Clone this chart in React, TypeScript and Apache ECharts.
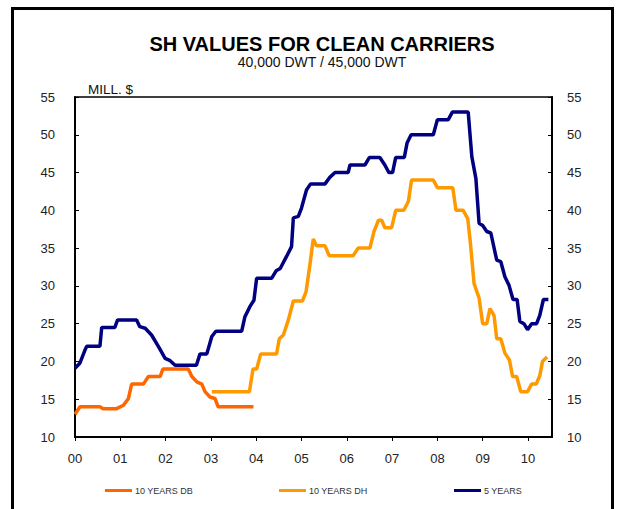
import React, { useEffect, useRef } from "react";
import * as echarts from "echarts";

// Time in years since 2000 (breakpoints), and values in MILL. $
const fiveYearTimes = [0, 0.11, 0.22, 0.26, 0.55, 0.59, 0.88, 0.94, 1.36, 1.43, 1.55, 1.69, 1.84, 1.99, 2.1, 2.21, 2.68, 2.76, 2.91, 3.02, 3.11, 3.68, 3.75, 3.86, 3.95, 4.01, 4.34, 4.44, 4.53, 4.67, 4.78, 4.82, 4.93, 5.0, 5.11, 5.2, 5.52, 5.63, 5.74, 6.03, 6.07, 6.4, 6.5, 6.73, 6.84, 6.93, 7.01, 7.08, 7.27, 7.33, 7.42, 7.91, 8.0, 8.24, 8.33, 8.68, 8.76, 8.85, 8.92, 9.0, 9.09, 9.18, 9.31, 9.4, 9.49, 9.58, 9.67, 9.76, 9.82, 9.91, 9.99, 10.08, 10.19, 10.26, 10.34, 10.45];
const fiveYearValues = [19.1, 19.8, 21.5, 22, 22, 24.5, 24.5, 25.5, 25.5, 24.6, 24.4, 23.5, 22, 20.4, 20.1, 19.5, 19.5, 21, 21, 23.3, 24, 24, 25.9, 27.25, 28.1, 31, 31, 32, 32.3, 33.9, 35.2, 39, 39.2, 40.3, 42.7, 43.5, 43.5, 44.4, 45, 45, 46, 46, 47, 47, 46, 45, 45, 47, 47, 48.9, 50, 50, 52, 52, 53, 53, 47.1, 44.2, 38.3, 38, 37.2, 37, 33.4, 33.2, 31.2, 30.1, 28.2, 28.2, 25.3, 25, 24.2, 25, 25, 26.1, 28.2, 28.2];

const dbTimes = [0, 0.11, 0.55, 0.62, 0.92, 1.07, 1.18, 1.25, 1.51, 1.62, 1.88, 1.94, 2.5, 2.58, 2.69, 2.8, 2.87, 2.98, 3.09, 3.16, 3.94];
const dbValues = [13, 14, 14, 13.75, 13.75, 14.2, 15.1, 17, 17, 18, 18, 19, 19, 18, 17.3, 17, 16, 15.3, 15.1, 14, 14];

const dhTimes = [3.02, 3.85, 3.93, 4.01, 4.1, 4.45, 4.51, 4.6, 4.71, 4.82, 5.02, 5.1, 5.19, 5.26, 5.33, 5.52, 5.61, 6.14, 6.25, 6.51, 6.6, 6.7, 6.77, 6.84, 6.99, 7.08, 7.26, 7.36, 7.43, 7.91, 8.0, 8.34, 8.41, 8.57, 8.67, 8.73, 8.81, 8.92, 9.0, 9.09, 9.16, 9.25, 9.31, 9.4, 9.49, 9.59, 9.66, 9.75, 9.84, 9.99, 10.08, 10.18, 10.26, 10.32, 10.42];
const dhValues = [16, 16, 19, 19, 21, 21, 23, 23.5, 25.5, 28, 28, 29.2, 33, 36.2, 35.3, 35.3, 34, 34, 35, 35, 37.2, 38.7, 38.7, 37.7, 37.7, 40, 40, 41.2, 44, 44, 43, 43, 40, 40, 38.9, 35.6, 30.3, 28.4, 25, 25, 27, 26.1, 23, 23, 21.1, 20.2, 18, 18, 16, 16, 17, 17, 18.1, 20, 20.6];

const xTickLabels = ["00", "01", "02", "03", "04", "05", "06", "07", "08", "09", "10"];
const seriesNames = ["10 YEARS DB", "10 YEARS DH", "5 YEARS"];

const FONT = "'Liberation Sans', Arial, sans-serif";

function pairs(t: number[], v: number[]) {
  return t.map((x, i) => [x, v[i]]);
}

export default function App() {
  const ref = useRef<HTMLDivElement>(null);
  useEffect(() => {
    if (!ref.current) return;
    const chart = echarts.init(ref.current, undefined, { renderer: "svg" });
    const yAxisCommon = {
      type: "value",
      min: 10,
      max: 55,
      interval: 5,
      axisLine: { show: true, lineStyle: { color: "#000", width: 2 } },
      axisTick: { show: true, inside: true, length: 4, lineStyle: { color: "#000", width: 1 } },
      splitLine: { show: false },
      axisLabel: { color: "#222", fontSize: 13, fontFamily: FONT },
    };
    const legendCommon = {
      top: 481,
      itemWidth: 27,
      itemHeight: 3,
      icon: "rect",
      textStyle: { fontSize: 9, color: "#333", fontFamily: FONT, padding: [0, 0, 0, -2] },
    };
    chart.setOption({
      animation: false,
      backgroundColor: "#fff",
      title: [
        {
          text: "SH VALUES FOR CLEAN CARRIERS",
          left: 317,
          top: 29,
          textAlign: "center",
          textStyle: { fontSize: 20, fontWeight: "bold", color: "#000", fontFamily: FONT },
        },
        {
          text: "40,000 DWT / 45,000 DWT",
          left: 317,
          top: 50,
          textAlign: "center",
          textStyle: { fontSize: 14, fontWeight: "normal", color: "#111", fontFamily: FONT },
        },
        {
          text: "MILL. $",
          left: 83,
          top: 77,
          textStyle: { fontSize: 13.5, fontWeight: "normal", color: "#111", fontFamily: FONT },
        },
      ],
      legend: [
        { ...legendCommon, left: 100, data: [seriesNames[0]] },
        { ...legendCommon, left: 274, data: [seriesNames[1]] },
        { ...legendCommon, left: 449, data: [seriesNames[2]] },
      ],
      grid: {
        left: 75,
        right: 65,
        top: 97,
        bottom: 72,
        show: true,
        borderColor: "#000",
        borderWidth: 1.5,
        backgroundColor: "transparent",
      },
      xAxis: {
        type: "value",
        min: 0,
        max: 10.53,
        interval: 1,
        axisLine: { show: true, lineStyle: { color: "#000", width: 2 } },
        axisTick: { show: true, inside: false, length: 4, lineStyle: { color: "#000", width: 1 } },
        splitLine: { show: false },
        axisLabel: {
          color: "#222",
          fontSize: 13,
          fontFamily: FONT,
          margin: 15,
          showMaxLabel: false,
          formatter: (v: number) => (Number.isInteger(v) ? xTickLabels[v] ?? "" : ""),
        },
      },
      yAxis: [
        { ...yAxisCommon, position: "left", axisLabel: { ...yAxisCommon.axisLabel, margin: 20 } },
        { ...yAxisCommon, position: "right", axisLabel: { ...yAxisCommon.axisLabel, margin: 15 } },
      ],
      series: [
        {
          name: seriesNames[0],
          type: "line",
          showSymbol: false,
          data: pairs(dbTimes, dbValues),
          lineStyle: { color: "#FF6600", width: 3.5 },
          itemStyle: { color: "#FF6600" },
        },
        {
          name: seriesNames[1],
          type: "line",
          showSymbol: false,
          data: pairs(dhTimes, dhValues),
          lineStyle: { color: "#FF9900", width: 3.5 },
          itemStyle: { color: "#FF9900" },
        },
        {
          name: seriesNames[2],
          type: "line",
          showSymbol: false,
          data: pairs(fiveYearTimes, fiveYearValues),
          lineStyle: { color: "#000080", width: 3.5 },
          itemStyle: { color: "#000080" },
        },
      ],
      graphic: [
        {
          type: "rect",
          shape: { x: 12.5, y: 8.5, width: 600, height: 520 },
          style: { fill: "none", stroke: "#000", lineWidth: 3 },
          silent: true,
        },
      ],
    });
    return () => chart.dispose();
  }, []);
  return (
    <div
      ref={ref}
      style={{ position: "fixed", left: 0, top: 0, width: 617, height: 509 }}
    />
  );
}
